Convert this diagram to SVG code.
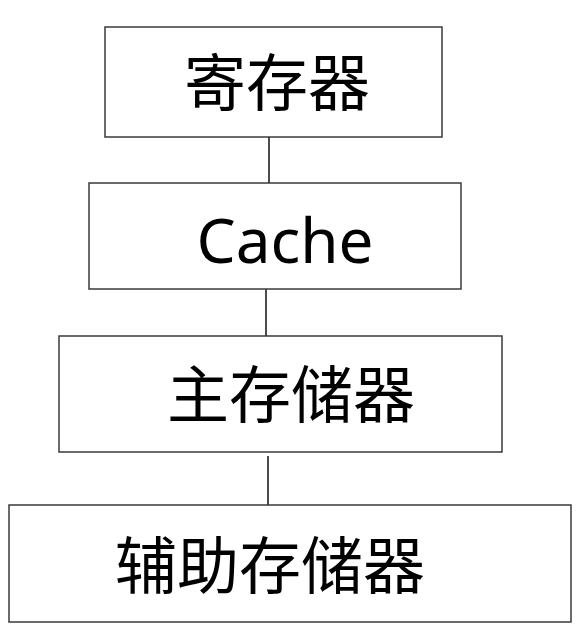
<svg xmlns="http://www.w3.org/2000/svg" width="582" height="641" viewBox="0 0 582 641">
<style>
.box{fill:#fff;stroke:#3a3a3a;stroke-width:1.5}
.lbl{font-family:"Noto Sans CJK SC","Noto Sans",sans-serif;font-size:62px;fill:#000;text-anchor:middle}
.lat{font-family:"Noto Sans","Open Sans",sans-serif;font-size:62px;fill:#000;text-anchor:middle}
.conn{stroke:#111;stroke-width:1.5;fill:none}
</style>
<rect width="582" height="641" fill="#fff"/>
<g id="connectors">
<line class="conn" x1="269" y1="137" x2="269" y2="183"/>
<line class="conn" x1="266" y1="289" x2="266" y2="336"/>
<line class="conn" x1="268" y1="456" x2="268" y2="505"/>
</g>
<g id="node-register">
<rect class="box" x="105" y="27" width="337" height="110"/>
<text class="lbl" x="277" y="106">寄存器</text>
</g>
<g id="node-cache">
<rect class="box" x="89" y="183" width="372" height="106"/>
<text class="lat" x="285" y="263">Cache</text>
</g>
<g id="node-main">
<rect class="box" x="59" y="336" width="443" height="116"/>
<text class="lbl" x="291" y="418">主存储器</text>
</g>
<g id="node-aux">
<rect class="box" x="9" y="505" width="562" height="117"/>
<text class="lbl" x="270" y="589">辅助存储器</text>
</g>
</svg>
